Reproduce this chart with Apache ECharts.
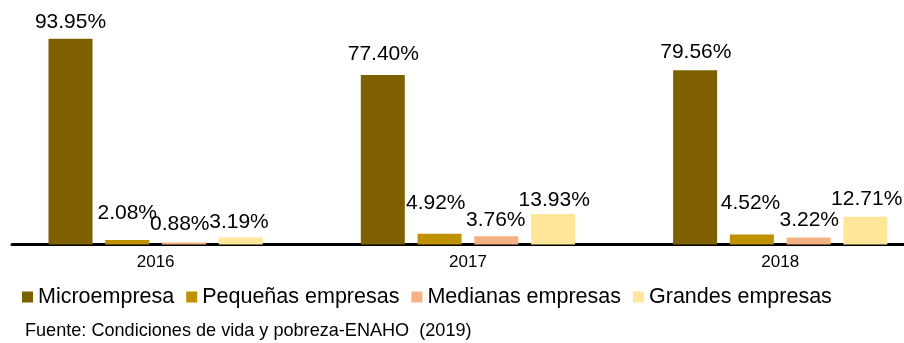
<!DOCTYPE html>
<html>
<head>
<meta charset="utf-8">
<script src="https://cdn.jsdelivr.net/npm/echarts@6/dist/echarts.min.js"></script>
<style>
  html, body { margin: 0; padding: 0; background: #fff; }
  #chart { width: 904px; height: 343px; }
</style>
</head>
<body>
<div id="chart"></div>
<script>
// Participación por tamaño de empresa (%)
const years = ['2016', '2017', '2018'];
const seriesNames = ['Microempresa', 'Pequeñas empresas', 'Medianas empresas', 'Grandes empresas'];
const microempresa = [93.95, 77.40, 79.56];
const pequenas = [2.08, 4.92, 4.52];
const medianas = [0.88, 3.76, 3.22];
const grandes = [3.19, 13.93, 12.71];
const sourceNote = 'Fuente: Condiciones de vida y pobreza-ENAHO  (2019)';

const colors = ['#7F6000', '#BF9000', '#F4B183', '#FFE699'];
// fine placement of each value label (dx, dy)
const labelNudge = [
  [[0, -4], [0.5, -8], [0.7, -5]],
  [[0, -14], [-3.8, -18], [-1.4, -18.5]],
  [[-4.3, -5], [-0.6, -3], [0.6, -4]],
  [[-1.8, -2], [1.1, -1], [1.3, -4]]
];

const FONT = '"Liberation Sans", Arial, sans-serif';
const valueSets = [microempresa, pequenas, medianas, grandes];

const chart = echarts.init(document.getElementById('chart'), null, { renderer: 'canvas' });

const series = valueSets.map((vals, si) => ({
  name: seriesNames[si],
  type: 'bar',
  xAxisIndex: 0,
  yAxisIndex: 0,
  barWidth: 44,
  barGap: '29%',
  itemStyle: { color: colors[si] },
  emphasis: { disabled: true },
  animation: false,
  data: vals.map((v, i) => ({
    value: v,
    label: { offset: labelNudge[si][i] }
  })),
  label: {
    show: true,
    position: 'top',
    distance: 2.5,
    color: '#000',
    fontFamily: FONT,
    fontSize: 21,
    formatter: p => p.value.toFixed(2) + '%'
  }
}));

chart.setOption({
  animation: false,
  grid: [
    { left: -0.5, width: 936.9, top: 25.5, bottom: 98.5, containLabel: false, outerBoundsMode: 'none' },
    { left: 12, right: 0, top: 25.5, bottom: 98.5, containLabel: false, outerBoundsMode: 'none' }
  ],
  xAxis: [
    {
      type: 'category',
      gridIndex: 0,
      data: years,
      axisLine: { show: false },
      axisTick: { show: false },
      axisLabel: { color: '#000', fontFamily: FONT, fontSize: 17, margin: 9.5 }
    },
    {
      type: 'value',
      gridIndex: 1,
      min: 0,
      max: 1,
      axisLine: { show: true, lineStyle: { color: '#000', width: 3 } },
      axisTick: { show: false },
      axisLabel: { show: false },
      splitLine: { show: false }
    }
  ],
  yAxis: [
    { type: 'value', gridIndex: 0, min: 0, max: 100, show: false },
    { type: 'value', gridIndex: 1, min: 0, max: 100, show: false }
  ],
  legend: {
    data: seriesNames,
    left: 22,
    top: 286,
    padding: 0,
    itemWidth: 11,
    itemHeight: 11,
    itemGap: 12,
    icon: 'rect',
    selectedMode: false,
    textStyle: { color: '#000', fontFamily: FONT, fontSize: 21.5 }
  },
  title: {
    text: sourceNote,
    left: 25,
    top: 322,
    padding: 0,
    textStyle: { color: '#000', fontFamily: FONT, fontSize: 18.1, fontWeight: 'normal' }
  },
  series: series
});
</script>
</body>
</html>
